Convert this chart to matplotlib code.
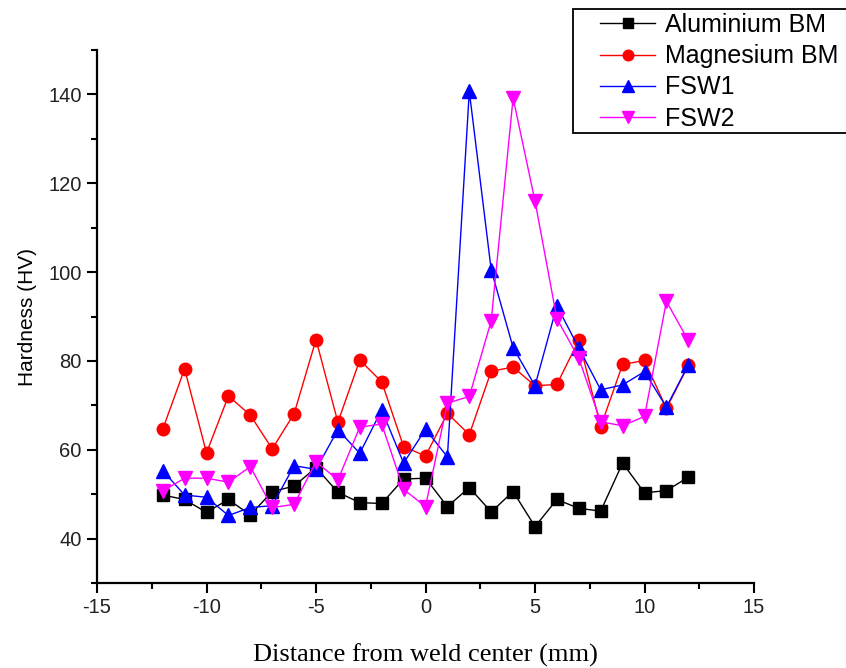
import matplotlib
matplotlib.use("Agg")
import matplotlib.pyplot as plt
from matplotlib.ticker import MultipleLocator
from matplotlib.patches import Rectangle

plt.rcParams["axes.unicode_minus"] = False

distance = list(range(-12, 13))
aluminium_bm = [49.8, 48.8, 45.9, 48.8, 45.3, 50.6, 51.8, 56.0, 50.4, 48.1, 47.9, 53.4, 53.6,
                47.2, 51.5, 46.0, 50.6, 42.7, 48.8, 46.8, 46.2, 57.0, 50.3, 50.8, 53.8]
magnesium_bm = [64.6, 78.2, 59.3, 72.1, 67.8, 60.2, 68.1, 84.8, 66.2, 80.2, 75.3, 60.7, 58.6,
                68.2, 63.4, 77.7, 78.6, 74.4, 74.7, 84.7, 65.2, 79.2, 80.1, 69.3, 79.0]
fsw1 = [55.3, 49.8, 49.3, 45.2, 47.0, 47.4, 56.4, 55.6, 64.5, 59.2, 69.0, 57.0, 64.6,
        58.4, 140.7, 100.5, 83.0, 74.4, 92.4, 82.9, 73.5, 74.6, 77.6, 69.6, 79.1]
fsw2 = [50.7, 53.6, 53.6, 52.7, 56.2, 47.0, 47.7, 57.3, 53.2, 65.1, 65.8, 51.1, 47.2,
        70.5, 72.0, 89.0, 139.2, 116.0, 89.5, 80.6, 66.3, 65.4, 67.5, 93.4, 84.6]
labels = ["Aluminium BM", "Magnesium BM", "FSW1", "FSW2"]

W, H = 846, 668
fig = plt.figure(figsize=(W/100, H/100), dpi=100)
ax = fig.add_axes([97/W, 1-583/H, (754-97)/W, (583-50)/H])

sans = ["Liberation Sans", "DejaVu Sans"]
serif = ["Liberation Serif", "DejaVu Serif"]

ax.plot(distance, aluminium_bm, color="black", lw=1.0, marker="s", ms=8, label=labels[0])
ax.plot(distance, magnesium_bm, color="#ff0000", lw=1.0, marker="o", ms=9, label=labels[1])
ax.plot(distance, fsw1, color="#0000ff", lw=1.0, marker="^", ms=10, label=labels[2])
ax.plot(distance, fsw2, color="#ff00ff", lw=1.0, marker="v", ms=10, label=labels[3])

ax.set_xlim(-15, 15)
ax.set_ylim(30, 150)
ax.xaxis.set_major_locator(MultipleLocator(5))
ax.xaxis.set_minor_locator(MultipleLocator(2.5))
ax.yaxis.set_major_locator(MultipleLocator(20))
ax.yaxis.set_minor_locator(MultipleLocator(10))

for s in ["top", "right"]:
    ax.spines[s].set_visible(False)
for s in ["left", "bottom"]:
    ax.spines[s].set_linewidth(1.6)

ax.tick_params(which="major", direction="out", length=7, width=1.5, labelsize=14.5, pad=4)
ax.tick_params(which="minor", direction="out", length=4, width=1.5)
for t in ax.get_xticklabels() + ax.get_yticklabels():
    t.set_fontfamily(sans)
    t.set_color("#222222")

ax.set_xlabel("Distance from weld center (mm)", fontsize=19, family=serif, labelpad=19)
ax.set_ylabel("Hardness (HV)", fontsize=15, family=sans, labelpad=8)

# legend frame drawn separately (box extends past the right edge)
fig.patches.append(Rectangle((573/W, 1-133/H), (860-573)/W, (133-9)/H,
                             transform=fig.transFigure, facecolor="white",
                             edgecolor="black", linewidth=1.3, zorder=3))
leg = fig.legend(loc="upper left", bbox_to_anchor=(600/W, 1-13/H), prop={"family": sans, "size": 18},
                 frameon=False, handlelength=2.2, handletextpad=0.4, labelspacing=0.29,
                 borderpad=0, borderaxespad=0, markerscale=0.85)
leg.set_zorder(4)

fig.savefig("out.png", dpi=100)
